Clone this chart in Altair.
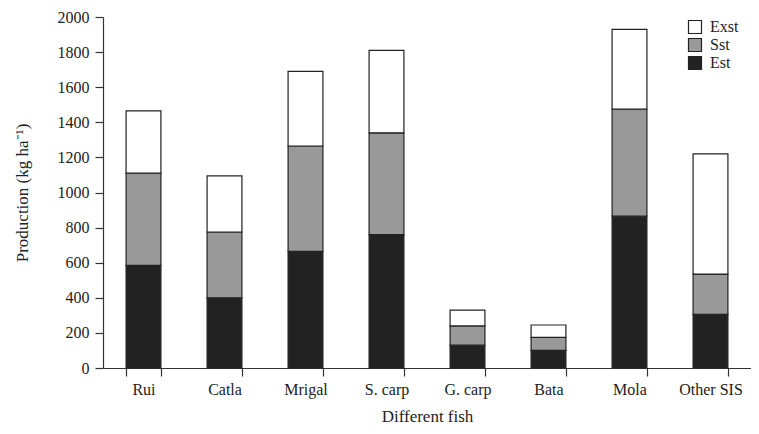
import altair as alt
import pandas as pd

fish = ["Rui", "Catla", "Mrigal", "S. carp", "G. carp", "Bata", "Mola", "Other SIS"]
est = [585, 400, 665, 760, 130, 100, 865, 305]
sst = [525, 375, 600, 580, 110, 75, 610, 230]
exst = [355, 320, 425, 470, 90, 70, 455, 685]
series = ["Est", "Sst", "Exst"]
legend_order = ["Exst", "Sst", "Est"]
colors = ["#ffffff", "#999999", "#222222"]

rows = []
for i, f in enumerate(fish):
    for k, (s, vals) in enumerate(zip(series, [est, sst, exst])):
        rows.append({"fish": f, "type": s, "value": vals[i], "ord": k})
df = pd.DataFrame(rows)

FONT = "Liberation Serif"

chart = alt.Chart(df).mark_bar(stroke="#222222", strokeWidth=1.2).encode(
    x=alt.X("fish:N", sort=fish, title="Different fish",
            scale=alt.Scale(paddingInner=0.57, paddingOuter=0.285),
            axis=alt.Axis(labelAngle=0, tickBand="extent", tickSize=8,
                          labelPadding=5, titlePadding=11)),
    y=alt.Y("value:Q", stack="zero", title="Production (kg ha⁻¹)",
            scale=alt.Scale(domain=[0, 2000], nice=False),
            axis=alt.Axis(values=list(range(0, 2001, 200)), grid=False, format="d",
                          tickSize=8, labelPadding=6, titlePadding=26)),
    color=alt.Color("type:N", scale=alt.Scale(domain=legend_order, range=colors),
                    legend=alt.Legend(title=None, orient="none", legendX=584, legendY=2,
                                      symbolType="square", symbolSize=169,
                                      symbolStrokeColor="#222222", symbolStrokeWidth=1.2,
                                      rowPadding=0, labelOffset=7)),
    order=alt.Order("ord:Q", sort="ascending"),
).properties(
    width=648, height=351,
    autosize=alt.AutoSizeParams(type="none"),
    padding={"left": 95, "right": 0, "top": 9, "bottom": 58},
).configure_view(stroke=None).configure_axis(
    labelFont=FONT, titleFont=FONT, labelFontSize=16, titleFontSize=17,
    titleFontWeight="normal", labelColor="#222222", titleColor="#222222",
    domainColor="#333333", tickColor="#333333", domainWidth=1.2, tickWidth=1.2,
).configure_legend(
    labelFont=FONT, labelFontSize=16, labelColor="#222222",
)

chart.save("out.html", embed_options={"renderer": "svg", "actions": False})
